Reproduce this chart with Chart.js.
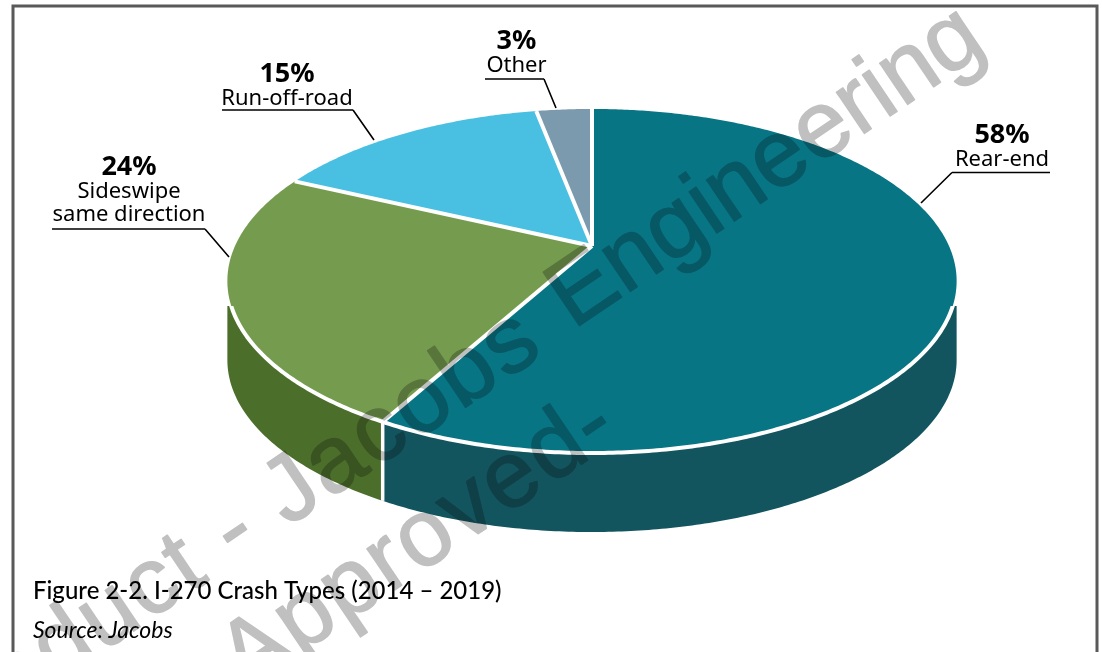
<!DOCTYPE html>
<html>
<head>
<meta charset="utf-8">
<title>I-270 Crash Types</title>
<script src="https://cdn.jsdelivr.net/npm/chart.js@4/dist/chart.umd.min.js"></script>
<style>
  html, body { margin: 0; padding: 0; background: #fff; }
  #wrap { position: relative; width: 1102px; height: 652px; overflow: hidden; }
</style>
</head>
<body>
<div id="wrap"><canvas id="crashChart" width="1102" height="652"></canvas></div>
<script>
const crashTypes = ['Rear-end', 'Sideswipe same direction', 'Run-off-road', 'Other'];
const crashShares = [58, 24, 15, 3];
const topColors = ['#087585', '#759c4e', '#49c0e2', '#7b9aad'];
const sideColors = ['#13555f', '#4b6f2b', '#2f8dab', '#5a7a8c'];

// Callout text and leader lines, one per slice
const callouts = [
  { lines: ['Rear-end'], cx: 1002, base: 143, rule: [952, 1050, 172.5], leader: [952, 172.5, 921, 203] },
  { lines: ['Sideswipe', 'same direction'], cx: 129, base: 175, rule: [52, 205, 229], leader: [205, 229, 229, 257] },
  { lines: ['Run-off-road'], cx: 287, base: 82, rule: [222, 353, 110], leader: [353, 110, 374, 140] },
  { lines: ['Other'], cx: 516.5, base: 49, rule: [485, 544, 79], leader: [544, 79, 556, 108] }
];

// Tilted disc: how the chart's angles land on the page
const tilt = { spreadX: 357, spreadY: 164.9, lean: 0.2035, depth: 79, wallStart: 60 };

function project(arc, angle) {
  const across = Math.sin(angle);
  const toward = -Math.cos(angle);
  const w = 1 - tilt.lean * toward;
  return { x: arc.x + tilt.spreadX * across / w, y: arc.y + tilt.spreadY * toward / w };
}

// angles from the arc elements are measured from 3 o'clock
function rimPoints(arc, from, to) {
  const pts = [];
  const steps = Math.max(2, Math.ceil((to - from) / 0.01));
  for (let i = 0; i <= steps; i++) {
    pts.push(project(arc, from + (to - from) * i / steps + Math.PI / 2));
  }
  return pts;
}

function drawWalls(chart, arcs) {
  const ctx = chart.ctx;
  // the wall is the top rim swept down, only on the half facing the viewer
  const nearFrom = Math.acos(-tilt.lean) - Math.PI / 2;
  const nearTo = Math.PI * 2 - Math.acos(-tilt.lean) - Math.PI / 2;
  ctx.save();
  ctx.beginPath();
  ctx.rect(0, arcs[0].y + tilt.wallStart, chart.width, chart.height);
  ctx.clip();
  arcs.forEach((arc, i) => {
    const from = Math.max(arc.startAngle, nearFrom);
    const to = Math.min(arc.endAngle, nearTo);
    if (to <= from) return;
    const pts = rimPoints(arc, from, to);
    ctx.beginPath();
    pts.forEach((p, j) => j ? ctx.lineTo(p.x, p.y) : ctx.moveTo(p.x, p.y));
    pts.slice().reverse().forEach(p => ctx.lineTo(p.x, p.y + tilt.depth));
    ctx.closePath();
    ctx.fillStyle = sideColors[i];
    ctx.fill();
  });
  // dividers between neighbouring walls
  arcs.forEach((arc, i) => {
    if (i === 0 || arc.startAngle < nearFrom || arc.startAngle > nearTo) return;
    const p = project(arc, arc.startAngle + Math.PI / 2);
    ctx.beginPath();
    ctx.moveTo(p.x, p.y);
    ctx.lineTo(p.x, p.y + tilt.depth);
    ctx.strokeStyle = '#fff';
    ctx.lineWidth = 3.5;
    ctx.stroke();
  });
  ctx.restore();
}

function drawTop(chart, arcs) {
  const ctx = chart.ctx;
  arcs.forEach((arc, i) => {
    const pts = rimPoints(arc, arc.startAngle, arc.endAngle);
    ctx.beginPath();
    ctx.moveTo(arc.x, arc.y);
    pts.forEach(p => ctx.lineTo(p.x, p.y));
    ctx.closePath();
    ctx.fillStyle = topColors[i];
    ctx.fill();
  });

  // white spokes between the slices
  ctx.strokeStyle = '#fff';
  ctx.lineWidth = 4;
  arcs.forEach(arc => {
    const edge = project(arc, arc.startAngle + Math.PI / 2);
    ctx.beginPath();
    ctx.moveTo(arc.x, arc.y);
    ctx.lineTo(edge.x, edge.y);
    ctx.stroke();
  });

  // white rim, only along the front where it meets the wall
  ctx.save();
  ctx.beginPath();
  ctx.rect(0, arcs[0].y + tilt.wallStart, chart.width, chart.height);
  ctx.clip();
  arcs.forEach(arc => {
    const pts = rimPoints(arc, arc.startAngle, arc.endAngle);
    ctx.beginPath();
    pts.forEach((p, j) => j ? ctx.lineTo(p.x, p.y) : ctx.moveTo(p.x, p.y));
    ctx.stroke();
  });
  ctx.restore();
}

const tiltedPie = {
  id: 'tiltedPie',
  // the arc elements give the angles, the disc is painted here instead
  beforeDatasetsDraw(chart) {
    const arcs = chart.getDatasetMeta(0).data;
    drawWalls(chart, arcs);
    drawTop(chart, arcs);
    return false;
  }
};

// stamp lettering on its own layer so fill and outline do not darken twice
function stampLayer(width, height) {
  const layer = document.createElement('canvas');
  layer.width = width;
  layer.height = height;
  const g = layer.getContext('2d');
  g.font = '94px "Liberation Sans"';
  g.fillStyle = '#c0c0c0';
  g.strokeStyle = '#c0c0c0';
  g.lineWidth = 1.5;
  g.lineJoin = 'round';
  g.translate(573, 330);
  g.rotate(-34 * Math.PI / 180);
  const put = (text, x, y) => {
    g.fillText(text, x, y);
    g.strokeText(text, x, y);
  };
  put('Engineering', 0, 0);
  g.textAlign = 'right';
  g.letterSpacing = '2.5px';
  put('Product - Jacobs', -34, 4);
  put('Approved-', -18, 116);
  return layer;
}

const pageDressing = {
  id: 'pageDressing',
  afterDraw(chart) {
    const ctx = chart.ctx;
    ctx.save();

    // frame: left, top and right only
    ctx.strokeStyle = '#595959';
    ctx.lineWidth = 3;
    ctx.beginPath();
    ctx.moveTo(13, 652);
    ctx.lineTo(13, 6);
    ctx.lineTo(1097, 6);
    ctx.lineTo(1097, 652);
    ctx.stroke();

    // callouts
    ctx.textAlign = 'center';
    ctx.textBaseline = 'alphabetic';
    callouts.forEach((c, i) => {
      ctx.fillStyle = '#000';
      ctx.font = 'bold 27px "Noto Sans"';
      ctx.fillText(crashShares[i] + '%', c.cx, c.base);
      ctx.font = '22px "Noto Sans"';
      c.lines.forEach((line, j) => ctx.fillText(line, c.cx, c.base + 23 + j * 23));
      ctx.strokeStyle = '#000';
      ctx.lineWidth = 1.6;
      ctx.beginPath();
      ctx.moveTo(c.rule[0], c.rule[2]);
      ctx.lineTo(c.rule[1], c.rule[2]);
      ctx.moveTo(c.leader[0], c.leader[1]);
      ctx.lineTo(c.leader[2], c.leader[3]);
      ctx.stroke();
    });

    // caption
    ctx.textAlign = 'left';
    ctx.font = '500 24px Lato';
    ctx.fillText('Figure 2-2. I-270 Crash Types (2014 \u2013 2019)', 33, 599);
    ctx.font = 'italic 23px Lato';
    ctx.fillText('Source: Jacobs', 33, 638);

    ctx.globalCompositeOperation = 'multiply';
    ctx.drawImage(stampLayer(chart.width, chart.height), 0, 0);
    ctx.restore();
  }
};

new Chart(document.getElementById('crashChart'), {
  type: 'pie',
  data: {
    labels: crashTypes,
    datasets: [{ data: crashShares, backgroundColor: topColors, borderColor: '#fff', borderWidth: 3 }]
  },
  options: {
    responsive: false,
    animation: false,
    // centre of the disc sits at x 592, y 246
    layout: { padding: { left: 82, right: 0, top: 0, bottom: 160 } },
    plugins: { legend: { display: false }, tooltip: { enabled: false } }
  },
  plugins: [tiltedPie, pageDressing]
});
</script>
</body>
</html>
